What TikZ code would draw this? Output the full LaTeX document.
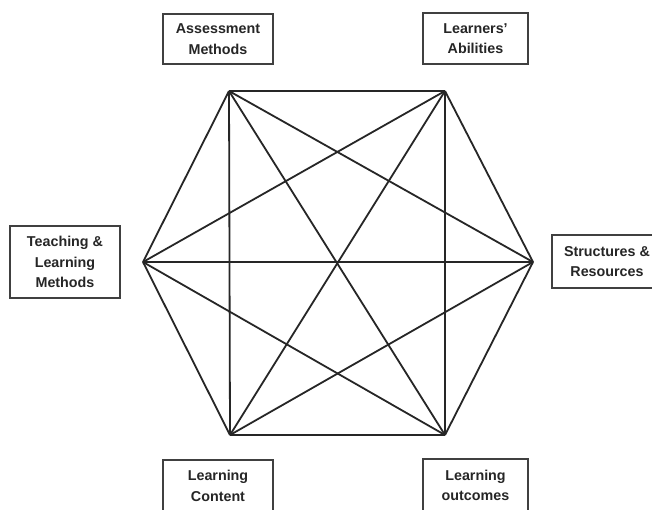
\documentclass[tikz,border=0pt]{standalone}
\usepackage{fontspec}
\setmainfont{Liberation Sans}
\begin{document}
\begin{tikzpicture}[x=1pt,y=-1pt,
  lbl/.style={draw=black!75,line width=1.6pt,fill=white,inner sep=0pt,align=center,
    font=\fontsize{14.3}{20.5}\selectfont\bfseries,text=black!85},
  edge/.style={draw=black!85,line width=1.8pt,line join=round}]
\useasboundingbox[fill=white] (0,0) rectangle (652,509);
% hexagon vertices
\coordinate (A) at (229,91);
\coordinate (B) at (445,91);
\coordinate (C) at (533,262);
\coordinate (D) at (445,435);
\coordinate (E) at (230,435);
\coordinate (F) at (143,262);
\foreach \p/\q in {A/B,A/C,A/D,A/E,A/F,B/C,B/D,B/E,B/F,C/D,C/E,C/F,D/E,D/F,E/F}
  \draw[edge] (\p) -- (\q);
% labels
\node[lbl,minimum width=110pt,minimum height=50pt] (am) at (218,39) {Assessment\\Methods};
\node[lbl,minimum width=105pt,minimum height=51pt] (la) at (475.5,38.5) {Learners'\\Abilities};
\node[lbl,minimum width=110pt,minimum height=72pt] (tl) at (65,262) {Teaching \&\\Learning\\Methods};
\node[lbl,minimum width=110pt,minimum height=53pt] (sr) at (607,261.5) {Structures \&\\Resources};
\node[lbl,minimum width=110pt,minimum height=52pt] (lc) at (218,486) {Learning\\Content};
\node[lbl,minimum width=105pt,minimum height=53pt] (lo) at (475.5,485.5) {Learning\\outcomes};
\end{tikzpicture}
\end{document}
